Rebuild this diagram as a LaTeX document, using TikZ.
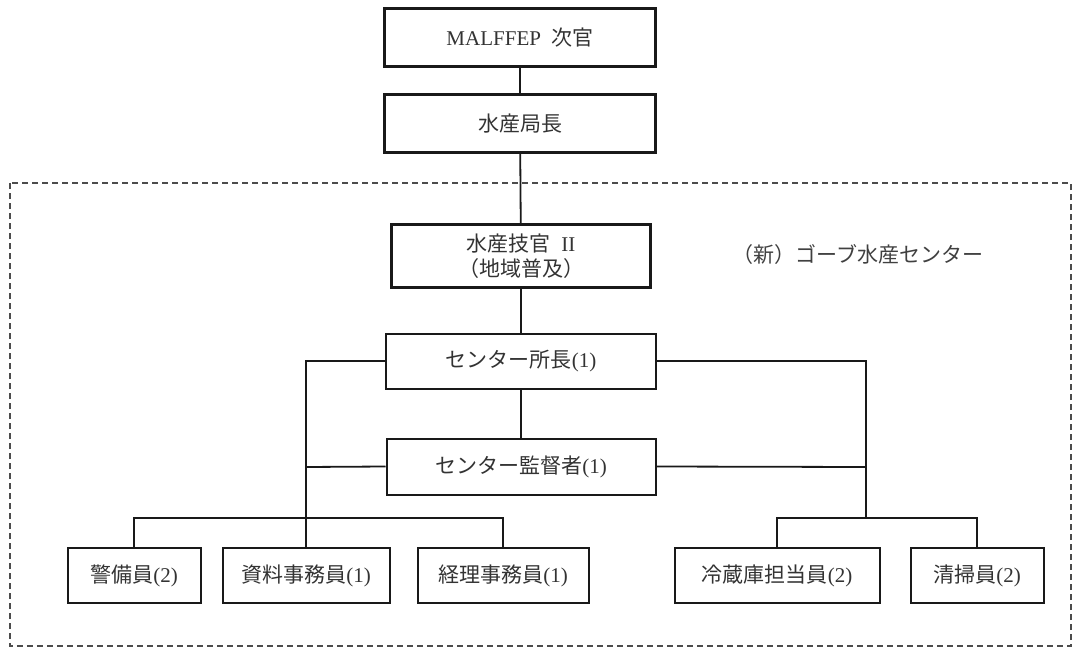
\documentclass[tikz,border=0pt]{standalone}
\usepackage{fontspec}
\setmainfont{Liberation Serif}
\newfontfamily\cjk{Noto Sans CJK JP}
\begin{document}
\begin{tikzpicture}[x=1pt,y=-1pt,
  box/.style={draw=black!90,line width=2pt,minimum height=55pt,inner sep=0pt,
    font=\fontsize{21}{25}\selectfont,text=black!80,align=center},
  hbox/.style={box,line width=3.2pt},
  conn/.style={draw=black!90,line width=1.8pt},
  lbl/.style={font=\fontsize{21}{25}\selectfont,text=black!75}]
\useasboundingbox (0,0) rectangle (1074,650);
% dashed frame of the centre
\draw[black!70,line width=1.3pt,dash pattern=on 6pt off 4pt] (10,183) rectangle (1071,646);
% boxes
\node[hbox,minimum width=271pt,minimum height=58pt] (vm) at (520,37.5) {MALFFEP\ \ {\cjk 次官}};
\node[hbox,minimum width=271pt,minimum height=58pt] (dg) at (520,123.5) {{\cjk 水産局長}};
\node[hbox,minimum width=259pt,minimum height=63pt] (fo) at (521,256) {{\cjk 水産技官}\ \ II\\{\cjk （地域普及）}};
\node[box,minimum width=270pt,minimum height=55pt] (mgr) at (521,361) {{\cjk センター所長}(1)};
\node[box,minimum width=269pt,minimum height=56pt] (sup) at (521,466.5) {{\cjk センター監督者}(1)};
\node[box,minimum width=133pt] (gd) at (134,575.5) {{\cjk 警備員}(2)};
\node[box,minimum width=167pt] (dc) at (306,575.5) {{\cjk 資料事務員}(1)};
\node[box,minimum width=171pt] (ac) at (503,575.5) {{\cjk 経理事務員}(1)};
\node[box,minimum width=205pt] (cs) at (777,575.5) {{\cjk 冷蔵庫担当員}(2)};
\node[box,minimum width=133pt] (cl) at (977,575.5) {{\cjk 清掃員}(2)};
% label
\node[lbl] (ttl) at (858,255) {{\cjk （新）ゴーブ水産センター}};
% junction points
\coordinate (lt) at (306,361);
\coordinate (lm) at (306,467);
\coordinate (rt) at (866,361);
\coordinate (rm) at (866,467);
\coordinate (rb) at (866,518);
\coordinate (lbl1) at (134,518);
\coordinate (lbr) at (503,518);
\coordinate (rbl) at (777,518);
\coordinate (rbr) at (977,518);
% connectors
\draw[conn] (vm) -- (dg);
\draw[conn] (dg) -- (fo);
\draw[conn] (fo) -- (mgr);
\draw[conn] (mgr) -- (sup);
\draw[conn] (mgr.west) -- (lt) -- (dc.north);
\draw[conn] (sup.west) -- (lm);
\draw[conn] (mgr.east) -- (rt) -- (rb);
\draw[conn] (sup.east) -- (rm);
\draw[conn] (gd.north) -- (lbl1) -- (lbr) -- (ac.north);
\draw[conn] (cs.north) -- (rbl) -- (rbr) -- (cl.north);
\end{tikzpicture}
\end{document}
